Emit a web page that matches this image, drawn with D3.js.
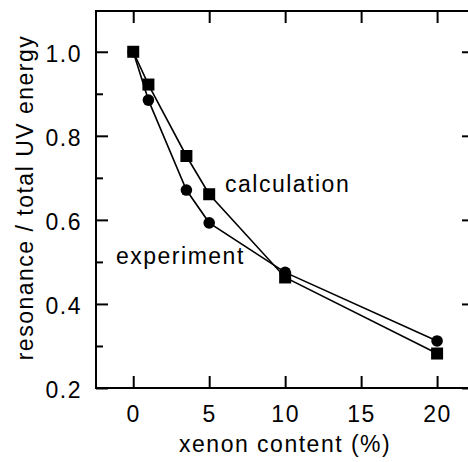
<!DOCTYPE html>
<html>
<head>
<meta charset="utf-8">
<script src="https://cdn.jsdelivr.net/npm/d3@7"></script>
<style>
  html, body { margin: 0; padding: 0; background: #fff; }
  svg { display: block; }
  text { font-family: "Liberation Sans", Arial, Helvetica, sans-serif; fill: #000; }
</style>
</head>
<body>
<svg id="chart" width="468" height="462"></svg>
<script>
// ---- data ----
const xenon = [0, 1, 3.5, 5, 10, 20];
const calculation = [1.0, 0.922, 0.752, 0.661, 0.463, 0.282];
const experiment = [1.0, 0.885, 0.671, 0.593, 0.475, 0.312];
const xTicks = [0, 5, 10, 15, 20];
const yMajorTicks = [0.2, 0.4, 0.6, 0.8, 1.0];
const yMinorTicks = [0.3, 0.5, 0.7, 0.9];
const xTitle = "xenon content (%)";
const yTitle = "resonance / total UV energy";
const seriesLabels = ["calculation", "experiment"];

// ---- layout ----
const W = 468, H = 462;
const mLeft = 96, mRight = 474, mTop = 11, mBottom = 388;
const fontSize = 23, spacing = 1.5;

const svg = d3.select("#chart");
const x = d3.scaleLinear().domain([-2.45, 22.43]).range([mLeft, mRight]);
const y = d3.scaleLinear().domain([0.2, 1.097]).range([mBottom, mTop]);

// frame
svg.append("rect")
  .attr("x", mLeft).attr("y", mTop)
  .attr("width", mRight - mLeft).attr("height", mBottom - mTop)
  .attr("fill", "none").attr("stroke", "#000").attr("stroke-width", 2);

const tickStroke = 2;
// bottom axis (ticks inward)
const bottomAxis = d3.axisBottom(x).tickValues(xTicks).tickSize(-12).tickFormat(d3.format("d"));
const gB = svg.append("g").attr("transform", `translate(0,${mBottom})`).call(bottomAxis);
gB.select(".domain").remove();
gB.selectAll(".tick line").attr("stroke", "#000").attr("stroke-width", tickStroke);
gB.selectAll(".tick text")
  .attr("font-size", fontSize).attr("letter-spacing", spacing)
  .attr("font-family", "Liberation Sans, Arial, sans-serif")
  .attr("fill", "#000")
  .attr("dy", 0).attr("y", 34);

// top axis (ticks inward, no labels)
const gT = svg.append("g").attr("transform", `translate(0,${mTop})`)
  .call(d3.axisTop(x).tickValues(xTicks).tickSize(-12).tickFormat(""));
gT.select(".domain").remove();
gT.selectAll(".tick line").attr("stroke", "#000").attr("stroke-width", tickStroke);

// left axis (major + minor inward)
const gL = svg.append("g").attr("transform", `translate(${mLeft},0)`)
  .call(d3.axisLeft(y).tickValues(yMajorTicks).tickSize(-12).tickFormat(d3.format(".1f")));
gL.select(".domain").remove();
gL.selectAll(".tick line").attr("stroke", "#000").attr("stroke-width", tickStroke);
gL.selectAll(".tick text")
  .attr("font-size", fontSize).attr("letter-spacing", spacing)
  .attr("font-family", "Liberation Sans, Arial, sans-serif")
  .attr("fill", "#000")
  .attr("x", -14).attr("dy", "0.42em");
const gLm = svg.append("g").attr("transform", `translate(${mLeft},0)`)
  .call(d3.axisLeft(y).tickValues(yMinorTicks).tickSize(-7).tickFormat(""));
gLm.select(".domain").remove();
gLm.selectAll(".tick line").attr("stroke", "#000").attr("stroke-width", tickStroke);

// right axis (major inward)
const gR = svg.append("g").attr("transform", `translate(${mRight},0)`)
  .call(d3.axisRight(y).tickValues(yMajorTicks).tickSize(-12).tickFormat(""));
gR.select(".domain").remove();
gR.selectAll(".tick line").attr("stroke", "#000").attr("stroke-width", tickStroke);

// axis titles
svg.append("text")
  .attr("x", (x(0) + x(20)) / 2).attr("y", 452)
  .attr("text-anchor", "middle")
  .attr("font-size", fontSize).attr("letter-spacing", spacing)
  .text(xTitle);
svg.append("text")
  .attr("transform", `translate(33,${(mTop + mBottom) / 2 - 2}) rotate(-90)`)
  .attr("text-anchor", "middle")
  .attr("font-size", fontSize).attr("letter-spacing", spacing)
  .text(yTitle);

// lines
const lineGen = vals => d3.line().x((d, i) => x(xenon[i])).y(d => y(d))(vals);
svg.append("path").attr("d", lineGen(experiment))
  .attr("fill", "none").attr("stroke", "#000").attr("stroke-width", 1.6);
svg.append("path").attr("d", lineGen(calculation))
  .attr("fill", "none").attr("stroke", "#000").attr("stroke-width", 1.6);

// markers
svg.append("g").selectAll("circle").data(experiment).join("circle")
  .attr("cx", (d, i) => x(xenon[i])).attr("cy", d => y(d)).attr("r", 5.8).attr("fill", "#000");
const sq = 12;
svg.append("g").selectAll("rect").data(calculation).join("rect")
  .attr("x", (d, i) => x(xenon[i]) - sq / 2).attr("y", d => y(d) - sq / 2)
  .attr("width", sq).attr("height", sq).attr("fill", "#000");

// series labels
svg.append("text").attr("x", 225).attr("y", 192)
  .attr("font-size", fontSize).attr("letter-spacing", spacing)
  .text(seriesLabels[0]);
svg.append("text").attr("x", 116).attr("y", 264)
  .attr("font-size", fontSize).attr("letter-spacing", spacing)
  .text(seriesLabels[1]);
</script>
</body>
</html>
